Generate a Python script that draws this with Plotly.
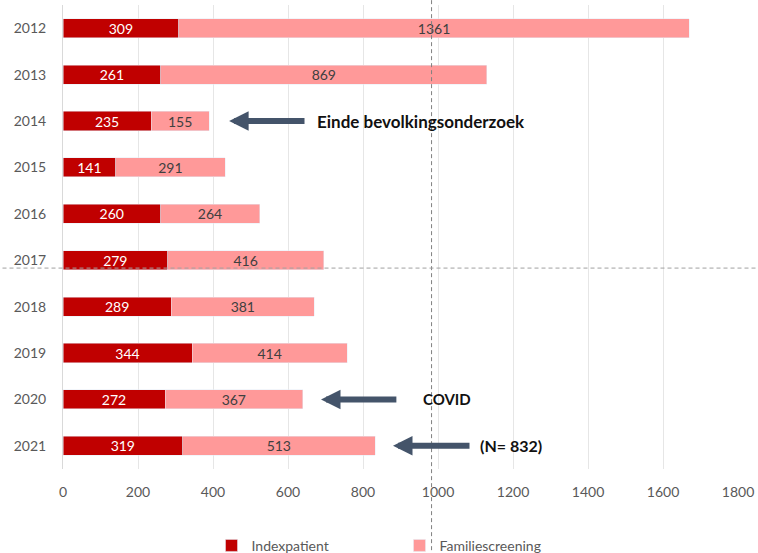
import plotly.graph_objects as go

years = ["2012", "2013", "2014", "2015", "2016", "2017", "2018", "2019", "2020", "2021"]
indexpatient = [309, 261, 235, 141, 260, 279, 289, 344, 272, 319]
familiescreening = [1361, 869, 155, 291, 264, 416, 381, 414, 367, 513]
x_ticks = [0, 200, 400, 600, 800, 1000, 1200, 1400, 1600, 1800]

FONT = "Lato"
cat_order = years[::-1]  # bottom-to-top order so 2012 is at the top

fig = go.Figure()
fig.add_trace(go.Bar(
    y=years, x=indexpatient, orientation="h", name="Indexpatient",
    marker=dict(color="#C00000"),
    text=[str(v) for v in indexpatient], textposition="inside",
    insidetextanchor="middle", constraintext="none",
    textfont=dict(color="white", size=14, family=FONT),
))
fig.add_trace(go.Bar(
    y=years, x=familiescreening, orientation="h", name="Familiescreening",
    marker=dict(color="#FF9999"),
    text=[str(v) for v in familiescreening], textposition="inside",
    insidetextanchor="middle", constraintext="none",
    textfont=dict(color="#404040", size=14, family=FONT),
))

arrow_color = "#44546A"
PX_PER_UNIT = 675 / 1800
arrows = [("2014", 443, 648, "Einde bevolkingsonderzoek", 673, 17),
          ("2020", 688, 893, "COVID", 955, 15),
          ("2021", 880, 1088, "(N= 832)", 1107, 16)]
for yr, tip, tail, label, tx, fs in arrows:
    yi = cat_order.index(yr)
    fig.add_annotation(x=tip, y=yi, xref="x", yref="y",
                       ax=(tail - tip) * PX_PER_UNIT, ay=0,
                       text="", showarrow=True,
                       arrowhead=2, arrowsize=0.65, arrowwidth=6,
                       arrowcolor=arrow_color, standoff=0, startstandoff=0)
    fig.add_annotation(x=tx, y=yi, xref="x", yref="y", text="<b>" + label + "</b>",
                       showarrow=False, xanchor="left", yanchor="middle",
                       font=dict(family=FONT, size=fs, color="#111111"))

# dashed reference lines
fig.add_shape(type="line", xref="paper", yref="paper", x0=0.546, x1=0.546,
              y0=-0.19, y1=1.02, line=dict(color="#808080", width=1, dash="4px,3px"))
fig.add_shape(type="line", xref="paper", yref="paper", x0=-0.1, x1=1.04,
              y0=0.433, y1=0.433, line=dict(color="#A0A0A0", width=1, dash="4px,3px"))

fig.update_layout(
    width=758, height=553,
    margin=dict(l=63, r=20, t=5, b=84),
    barmode="stack", bargap=0.59,
    plot_bgcolor="white", paper_bgcolor="white",
    font=dict(family=FONT, size=14, color="#595959"),
    showlegend=True,
    legend=dict(orientation="h", x=0.22, xanchor="left",
                yref="container", y=0.013, yanchor="middle",
                traceorder="normal",
                entrywidth=143, font=dict(size=14, color="#595959"),
                bgcolor="rgba(0,0,0,0)"),
    xaxis=dict(range=[0, 1800], tickvals=x_ticks, showgrid=True, automargin=False,
               gridcolor="#E6E6E6", zeroline=False,
               ticks="outside", ticklen=10, tickcolor="rgba(0,0,0,0)",
               tickfont=dict(size=14, color="#595959")),
    yaxis=dict(type="category", categoryorder="array", categoryarray=cat_order,
               range=[-0.5, len(years) - 0.5], autorange=False,
               showline=True, linecolor="#D9D9D9",
               ticks="outside", ticklen=13, tickcolor="rgba(0,0,0,0)",
               showgrid=False, automargin=False,
               tickfont=dict(size=14, color="#595959")),
)

fig.write_html("out.html", config={"displayModeBar": False},
               post_script="document.body.style.margin='0';document.body.style.padding='0';")
